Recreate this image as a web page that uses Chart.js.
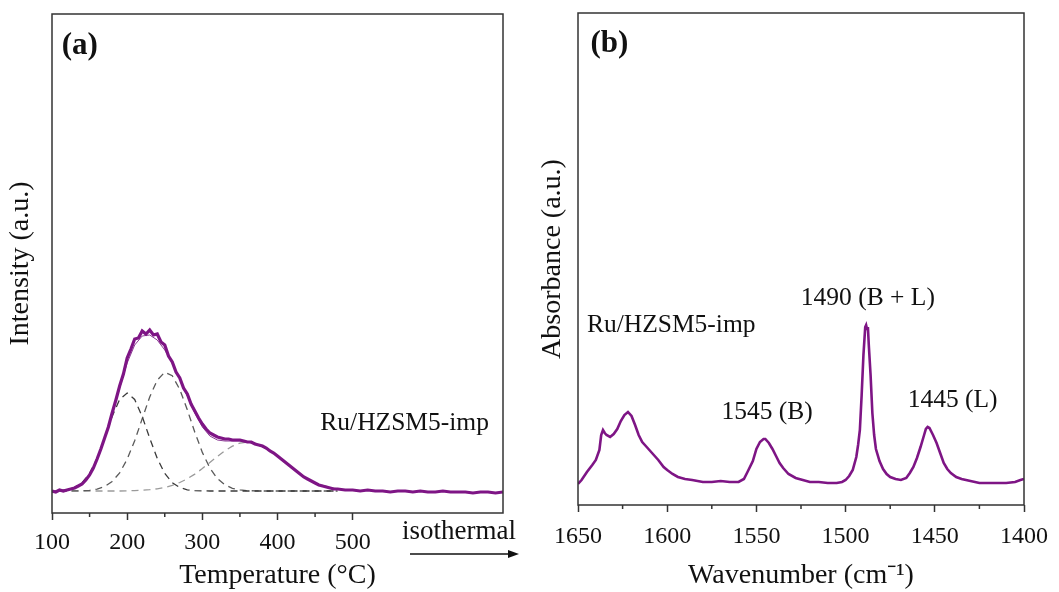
<!DOCTYPE html>
<html>
<head>
  <script src="https://cdn.jsdelivr.net/npm/chart.js"></script>
  <style>
    body { margin: 0; background: #fff; }
    .panel { position: absolute; top: 0px; }
  </style>
</head>
<body>
  <div class="panel" style="left:0px"><canvas id="tpdChart" width="530" height="592"></canvas></div>
  <div class="panel" style="left:530px"><canvas id="irChart" width="529" height="592"></canvas></div>

<script>
// (a) TPD signal
var tpdTemp = [100,105,110,115,120,125,130,135,140,145,150,155,160,165,170,175,180,185,190,195,
  200,205,210,215,220,225,230,235,240,245,250,255,260,265,270,275,280,285,290,295,
  300,305,310,315,320,325,330,335,340,345,350,355,360,365,370,375,380,385,390,395,
  400,405,410,415,420,425,430,435,440,445,450,455,460,465,470,475,480,
  490,500,510,520,530,540,550,560,570,580,590,600,610,620,630,640,650,660,670,680,690,700];
var tpdSignal = [0,-1,1,0,1,2,3,5,7,11,16,23,32,42,53,64,78,91,105,117,
  133,142,152,153,160,157,161,156,157,149,146,135,129,119,113,103,97,87,80,73,
  67,62,58,56,54,53,52,52,51,51,51,50,49,49,47,46,45,43,40,38,
  35,32,29,26,23,20,17,14,12,10,8,6,5,4,3,2,2,
  1,1,0,1,0,0,-1,0,0,-1,0,-1,-1,0,-1,-1,-1,-2,-1,-1,-2,-1];

// deconvoluted peaks (dashed) and their sum (thin line)
var fitTemp = [110,120,130,140,150,160,170,180,190,200,210,220,230,240,250,260,270,280,290,300,
  310,320,330,340,350,360,370,380,390,400,410,420,430,440,450,460,470,480];
var peak1 = [0.4,1.2,3.4,8.3,17.6,32.7,52.9,74.5,91.5,98,91.5,74.5,52.9,32.7,17.6,8.3,3.4,1.2,0.4,0.1,
  0,0,0,0,0,0,0,0,0,0,0,0,0,0,0,0,0,0];
var peak2 = [0,0,0.1,0.3,0.7,1.9,4.5,9.5,18.2,31.8,50.3,72.2,94.0,110.9,118.8,115.3,101.6,81.2,58.8,38.6,
  23.0,12.4,6.1,2.7,1.1,0.4,0.1,0,0,0,0,0,0,0,0,0,0,0];
var peak3 = [0,0,0,0,0,0,0,0,0,0.2,0.4,0.7,1.3,2.2,3.5,5.6,8.5,12.2,16.9,22.4,
  28.5,34.6,40.3,44.9,47.9,49,47.9,44.9,40.3,34.6,28.5,22.4,16.9,12.2,8.5,5.6,3.5,2.2];
var fitSum = [0.5,1,3,7,16,32,53,77,103,128,146,155,156,151,141,128,112,95,78,64,
  55,51,50,50,50,49,47,44,40,35,29,23,17,12,8,5,3,2];

var tpdTicks = [100, 200, 300, 400, 500];
var tpdMinor = [150, 250, 350, 450];

// (b) IR spectrum
var irWave = [1650,1648,1645,1642,1640,1638,1637,1636,1635,1634,
  1632,1630,1628,1626,1624,1622,1620,1618,1616,1614,
  1612,1610,1608,1605,1602,1600,1597,1594,1590,1586,
  1580,1575,1570,1565,1560,1557,1555,1552,1550,1548,
  1546,1545,1543,1541,1539,1537,1535,1532,1528,1524,
  1520,1515,1510,1505,1502,1500,1498,1496,1494,1493,
  1492,1491,1490,1489,1488.5,1488,1487.5,1487,1486,1485,
  1484,1483,1481,1479,1477,1475,1472,1469,1466,1464,
  1462,1460,1458,1456,1455,1454,1453,1451,1449,1447,
  1445,1443,1441,1438,1435,1430,1425,1420,1415,1410,
  1405,1402,1400];
var irAbs = [21,25,33,40,45,55,70,75,72,70,
  68,71,76,84,90,93,89,80,70,63,
  59,55,51,45,38,35,31,28,26,25,
  23,23,24,23,23,26,33,44,56,63,
  66,66,62,56,49,42,37,31,27,25,
  23,23,22,22,23,25,29,35,48,60,
  75,110,150,178,180,176,178,160,130,92,
  70,56,44,36,31,28,26,25,27,32,
  38,47,58,70,76,78,77,70,62,52,
  42,36,32,28,26,24,22,22,22,22,
  23,25,26];

var irTicks = [1650, 1600, 1550, 1500, 1450, 1400];
var irMinor = [1625, 1575, 1525, 1475, 1425];

var serif = "'Liberation Serif', 'Times New Roman', serif";
Chart.defaults.font.family = serif;
Chart.defaults.color = '#111';

function pts(xs, ys) {
  return xs.map(function(x, i) { return {x: x, y: ys[i]}; });
}

function series(label, xs, ys, color, width, dash) {
  return {
    label: label,
    data: pts(xs, ys),
    borderColor: color,
    borderWidth: width,
    borderDash: dash || [],
    pointRadius: 0,
    fill: false,
    tension: 0
  };
}

// box around the plot, minor ticks and text notes
var framePlugin = {
  id: 'frame',
  afterDraw: function(chart, args, opts) {
    var a = chart.chartArea, c = chart.ctx;
    var xs = chart.scales.x, ys = chart.scales.y;
    c.save();
    c.strokeStyle = '#333';
    c.lineWidth = 1.5;
    c.strokeRect(a.left, a.top, a.right - a.left, a.bottom - a.top);
    opts.minor.forEach(function(v) {
      var p = xs.getPixelForValue(v);
      c.beginPath();
      c.moveTo(p, a.bottom);
      c.lineTo(p, a.bottom + 4);
      c.stroke();
    });
    c.fillStyle = '#111';
    c.textBaseline = 'middle';
    opts.notes.forEach(function(n) {
      c.font = n.font;
      c.textAlign = n.align;
      c.fillText(n.text, xs.getPixelForValue(n.x), ys.getPixelForValue(n.y));
    });
    c.restore();
  }
};

// "isothermal" label with arrow under the (a) axis
var isoPlugin = {
  id: 'iso',
  afterDraw: function(chart) {
    var c = chart.ctx;
    c.save();
    c.font = '27px ' + serif;
    c.fillStyle = '#111';
    c.textAlign = 'left';
    c.textBaseline = 'middle';
    c.fillText('isothermal', 402, 532);
    c.strokeStyle = '#111';
    c.lineWidth = 1.3;
    c.beginPath();
    c.moveTo(410, 554);
    c.lineTo(510, 554);
    c.stroke();
    c.beginPath();
    c.moveTo(519, 554);
    c.lineTo(508, 550);
    c.lineTo(508, 558);
    c.closePath();
    c.fill();
    c.restore();
  }
};

function xAxis(min, max, ticks, title, height, pad, reverse) {
  return {
    type: 'linear',
    min: min,
    max: max,
    reverse: reverse,
    afterBuildTicks: function(s) { s.ticks = ticks.map(function(v) { return {value: v}; }); },
    afterFit: function(s) { s.height = height; },
    ticks: {
      font: {size: 24}, padding: pad, maxRotation: 0, autoSkip: false, color: '#111',
      callback: function(v) { return String(v); }
    },
    grid: { drawOnChartArea: false, tickLength: 7, tickColor: '#333', tickWidth: 1.5 },
    border: { display: false },
    title: { display: true, text: title, font: {size: 28}, padding: {top: 0, bottom: 0}, color: '#111' }
  };
}

function yAxis(min, max, title, width, pad) {
  return {
    min: min,
    max: max,
    afterFit: function(s) { s.width = width; },
    ticks: { display: false },
    grid: { display: false },
    border: { display: false },
    title: { display: true, text: title, font: {size: 28}, padding: {top: pad, bottom: 0}, color: '#111' }
  };
}

var noteFont = '25.5px ' + serif;
var tagFont = 'bold 31px ' + serif;

// panel (a)
new Chart(document.getElementById('tpdChart').getContext('2d'), {
  type: 'line',
  data: {
    datasets: [
      series('TPD', tpdTemp, tpdSignal, '#7e1585', 3.2),
      series('Fit', fitTemp, fitSum, '#8a3a94', 1),
      series('Peak 1', fitTemp, peak1, '#3a3a3a', 1.3, [7, 5]),
      series('Peak 2', fitTemp, peak2, '#5a5a5a', 1.3, [7, 5]),
      series('Peak 3', fitTemp, peak3, '#9a9a9a', 1.3, [7, 5])
    ]
  },
  options: {
    responsive: false,
    animation: false,
    layout: { padding: {left: 0, top: 14, right: 27, bottom: 0} },
    plugins: {
      legend: { display: false },
      tooltip: { enabled: false },
      frame: {
        minor: tpdMinor,
        notes: [
          {text: '(a)', x: 113, y: 445, font: tagFont, align: 'left'},
          {text: 'Ru/HZSM5-imp', x: 457, y: 68, font: noteFont, align: 'left'}
        ]
      }
    },
    scales: {
      x: xAxis(100, 700, tpdTicks, 'Temperature (°C)', 79, 8, false),
      y: yAxis(-22, 477, 'Intensity (a.u.)', 52, 4)
    }
  },
  plugins: [framePlugin, isoPlugin]
});

// panel (b)
new Chart(document.getElementById('irChart').getContext('2d'), {
  type: 'line',
  data: {
    datasets: [
      series('Ru/HZSM5-imp', irWave, irAbs, '#7e1585', 2.6)
    ]
  },
  options: {
    responsive: false,
    animation: false,
    layout: { padding: {left: 0, top: 13, right: 35, bottom: 0} },
    plugins: {
      legend: { display: false },
      tooltip: { enabled: false },
      frame: {
        minor: irMinor,
        notes: [
          {text: '(b)', x: 1643, y: 461, font: tagFont, align: 'left'},
          {text: 'Ru/HZSM5-imp', x: 1645, y: 180, font: noteFont, align: 'left'},
          {text: '1490 (B + L)', x: 1487.5, y: 207, font: noteFont, align: 'center'},
          {text: '1545 (B)', x: 1544, y: 93, font: noteFont, align: 'center'},
          {text: '1445 (L)', x: 1440, y: 105, font: noteFont, align: 'center'}
        ]
      }
    },
    scales: {
      x: xAxis(1400, 1650, irTicks, 'Wavenumber (cm⁻¹)', 87, 10, true),
      y: yAxis(0, 492, 'Absorbance (a.u.)', 48, 6)
    }
  },
  plugins: [framePlugin]
});
</script>
</body>
</html>
